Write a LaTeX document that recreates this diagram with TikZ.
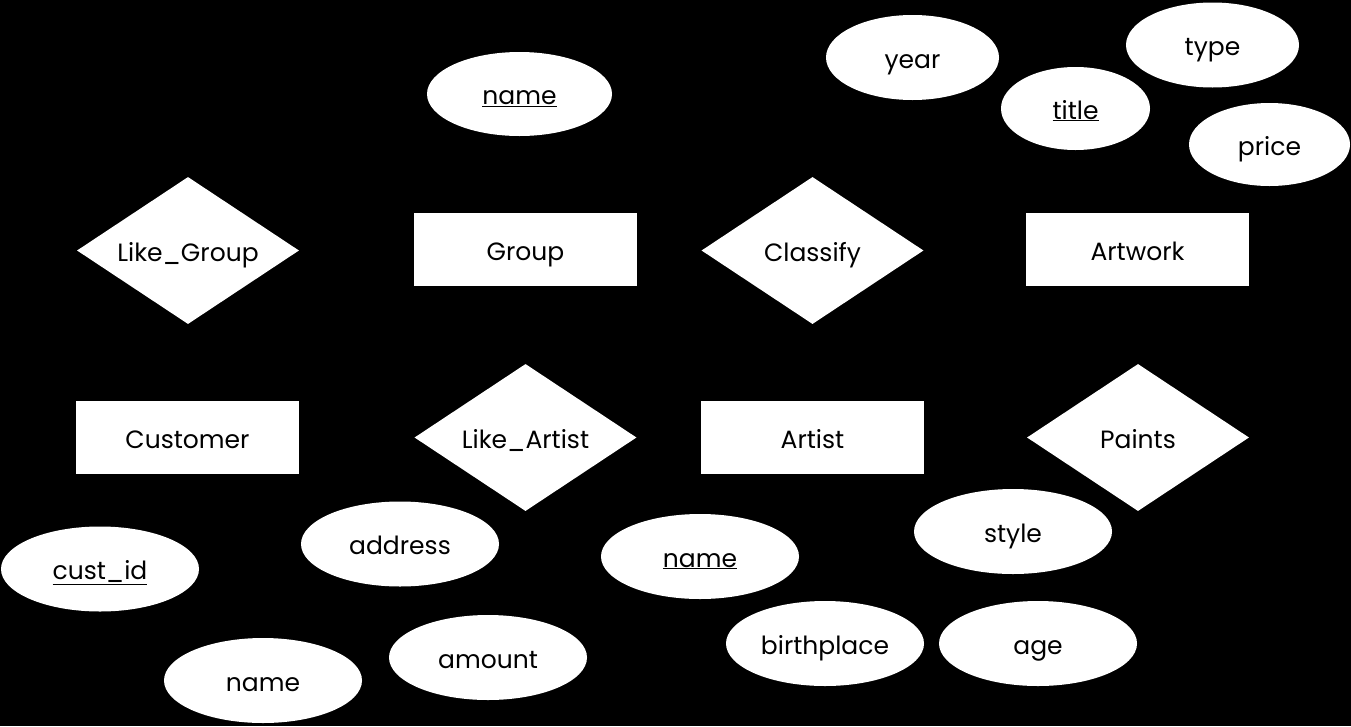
\documentclass[tikz,border=0pt]{standalone}
\usepackage{fontspec}
\setmainfont{Poppins}
\usetikzlibrary{shapes.geometric}

\tikzset{
    base/.style={fill=white, inner sep=0pt, text height=24pt, text depth=3pt},
    entita/.style={base, rectangle,
        minimum width=223pt, minimum height=73pt},
    relazione/.style={base, diamond,
        minimum width=222pt, minimum height=147pt},
    attributo/.style={base, ellipse,
        minimum width=198pt, minimum height=85pt}
}
% testo a larghezza nulla, cosi' il rombo resta della misura data
\newcommand{\etichetta}[1]{\makebox[0pt]{#1}}

\begin{document}
\begin{tikzpicture}[x=1pt, y=-1pt, font=\fontsize{25}{30}\selectfont]
        % sfondo
        \fill[black] (0,0) rectangle (1351,726);
        \useasboundingbox (0,0) rectangle (1351,726);

        % entita
        \node[entita] (Group)    at (525.5,249.5) {Group};
        \node[entita] (Artwork)  at (1137.5,249.5) {Artwork};
        \node[entita] (Customer) at (187.5,437.5) {Customer};
        \node[entita] (Artist)   at (812.5,437.5) {Artist};

        % relazioni
        \node[relazione] (LikeGroup)  at (188,250.5)   {\etichetta{Like\_Group}};
        \node[relazione] (Classify)   at (812.5,250.5) {\etichetta{Classify}};
        \node[relazione] (LikeArtist) at (525.5,437.5) {\etichetta{Like\_Artist}};
        \node[relazione] (Paints)     at (1138,437.5)  {\etichetta{Paints}};

        % attributi di Group
        \node[attributo, minimum width=185pt, minimum height=84pt] (GroupName) at (519.5,94) {\underline{name}};

        % attributi di Artwork
        \node[attributo, minimum width=173pt] (Year)  at (912.5,57.5)  {year};
        \node[attributo, minimum width=173pt] (Type)  at (1212.5,45)   {type};
        \node[attributo, minimum width=149pt, minimum height=83pt] (Title) at (1075.5,108.5) {\underline{title}};
        \node[attributo, minimum width=161pt, minimum height=83pt] (Price) at (1269.5,144.5) {price};

        % attributi di Customer
        \node[attributo] (CustId)   at (100,569)   {\underline{cust\_id}};
        \node[attributo] (CustName) at (263,680.5) {name};

        % attributi di Like_Artist
        \node[attributo] (Address) at (400,544)   {address};
        \node[attributo] (Amount)  at (488,657.5) {amount};

        % attributi di Artist
        \node[attributo] (ArtistName) at (700,556.5)  {\underline{name}};
        \node[attributo] (Birthplace) at (825,643.5)  {birthplace};
        \node[attributo] (Style)      at (1013,531.5) {style};
        \node[attributo] (Age)        at (1038,643.5) {age};
\end{tikzpicture}
\end{document}
